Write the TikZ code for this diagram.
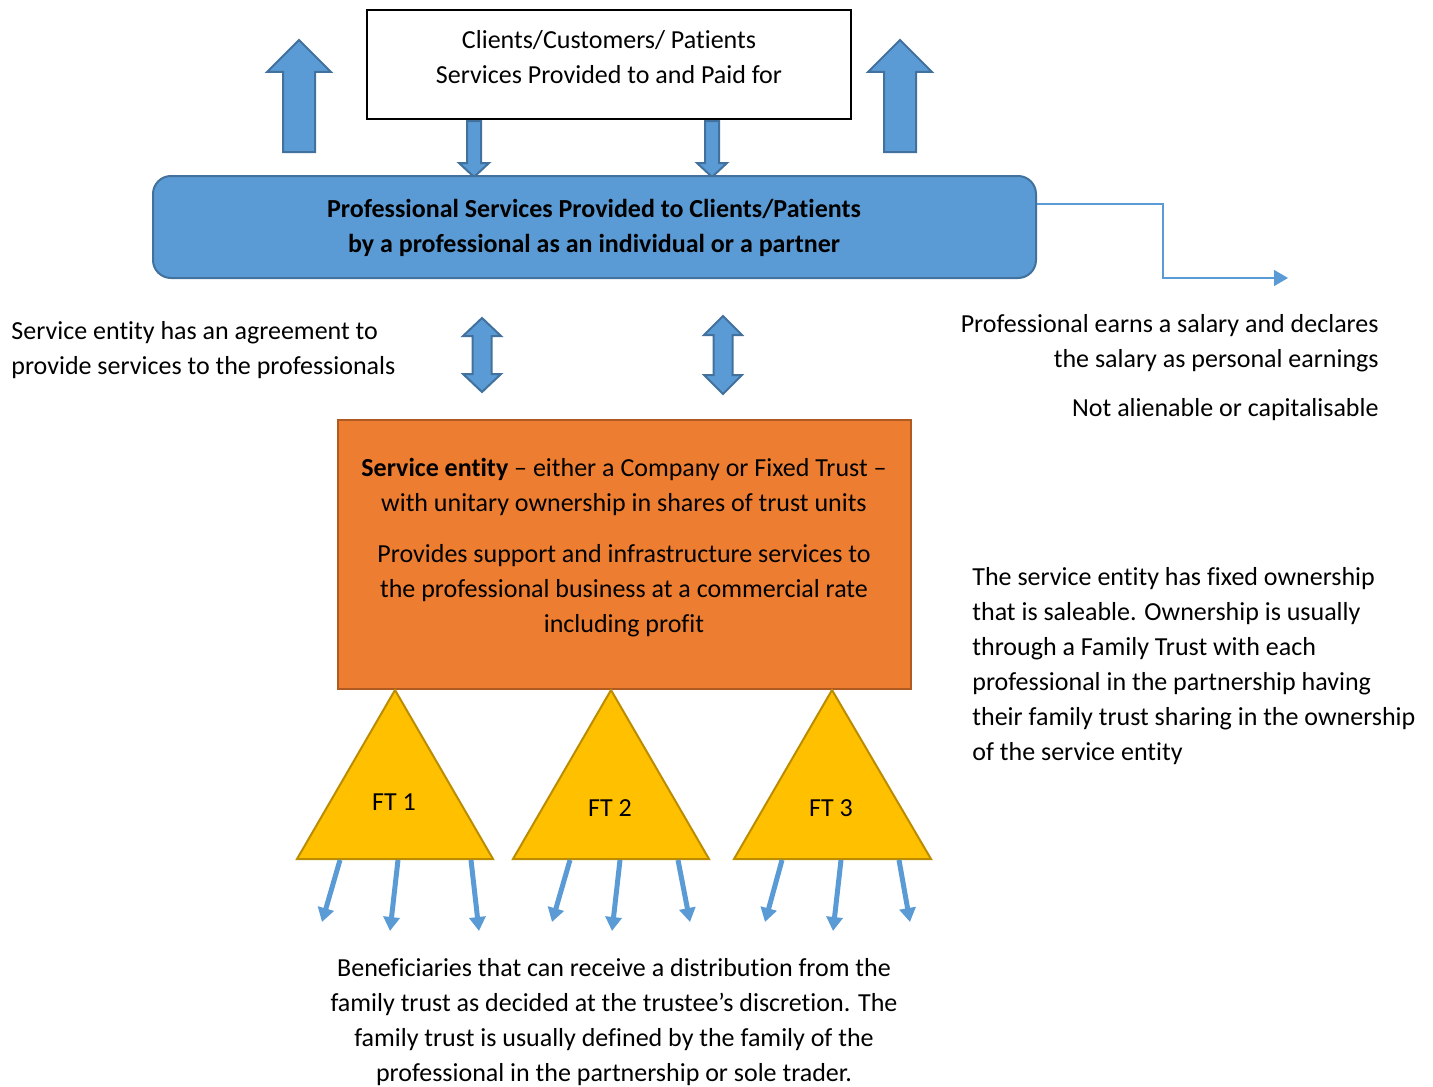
\documentclass[tikz,border=0pt]{standalone}
\usepackage{fontspec}
\setmainfont{Carlito}[Ligatures=NoCommon]
\usetikzlibrary{arrows.meta}
\definecolor{bfill}{HTML}{5B9BD5}
\definecolor{bline}{HTML}{41719C}
\definecolor{ofill}{HTML}{ED7D31}
\definecolor{oline}{HTML}{AE5A21}
\definecolor{tfill}{HTML}{FFC000}
\definecolor{tline}{HTML}{BC8C00}
\tikzset{
  txt/.style={inner sep=0pt, font=\fontsize{13}{17.5}\selectfont},
  blockarrow/.style={fill=bfill, draw=bline, line width=1pt, line join=miter},
  trust/.style={fill=tfill, draw=tline, line width=1pt},
  benarrow/.style={draw=bfill, line width=2.5pt, -{Triangle[length=7pt,width=8pt]}},
  elbow/.style={draw=bfill, line width=0.7pt, -{Triangle[length=7pt,width=8pt]}},
}
\begin{document}
\begin{tikzpicture}[x=0.5pt,y=-0.5pt]
\path[use as bounding box] (0,0) rectangle (1433,1086);
% top box
\node[draw=black, line width=1pt, minimum width=242pt, minimum height=54.5pt, inner sep=0pt] (clients) at (609,64.5) {};
\node[txt, align=center] (clientstxt) at (609,57) {Clients/Customers/ Patients\\Services Provided to and Paid for};
% up block arrows
\draw[blockarrow] (283,152) -- (283,72) -- (267,72) -- (299,40) -- (331,72) -- (315,72) -- (315,152) -- cycle;
\draw[blockarrow] (884,152) -- (884,72) -- (868,72) -- (900,40) -- (932,72) -- (916,72) -- (916,152) -- cycle;
% down block arrows
\draw[blockarrow] (467,121) -- (481,121) -- (481,163) -- (489,163) -- (474,177) -- (459,163) -- (467,163) -- cycle;
\draw[blockarrow] (705,121) -- (719,121) -- (719,163) -- (727,163) -- (712,177) -- (697,163) -- (705,163) -- cycle;
% blue box
\node[fill=bfill, draw=bline, line width=1pt, rounded corners=9pt, minimum width=441.5pt, minimum height=51pt, inner sep=0pt] (prof) at (594.5,227) {};
\node[txt, align=center, font=\fontsize{13}{17.5}\selectfont\bfseries] (proftxt) at (594,228) {Professional Services Provided to Clients/Patients\\by a professional as an individual or a partner};
% elbow connector
\coordinate (elbowend) at (1288,278);
\draw[elbow] (prof.east |- 0,204) -- (1163,204) -- (1163,278) -- (elbowend);
% double arrows
\draw[blockarrow] (482,318) -- (501,336) -- (491.5,336) -- (491.5,374) -- (501,374) -- (482,392) -- (463,374) -- (472.5,374) -- (472.5,336) -- (463,336) -- cycle;
\draw[blockarrow] (723,316) -- (742,335) -- (732.5,335) -- (732.5,375) -- (742,375) -- (723,394) -- (704,375) -- (713.5,375) -- (713.5,335) -- (704,335) -- cycle;
% side texts
\node[txt, align=left, anchor=west] (agree) at (11,350) {Service entity has an agreement to\\provide services to the professionals};
\node[txt, align=right, anchor=east] (salary) at (1379,368) {Professional earns a salary and declares\\the salary as personal earnings\\[7pt]Not alienable or capitalisable};
% orange box
\node[fill=ofill, draw=oline, line width=1pt, minimum width=286.5pt, minimum height=134.5pt, inner sep=0pt] (service) at (624.5,554.5) {};
\node[txt, align=center] (servicetxt) at (624,548) {\textbf{Service entity} -- either a Company or Fixed Trust --\\with unitary ownership in shares of trust units\\[8pt]Provides support and infrastructure services to\\the professional business at a commercial rate\\including profit};
\node[txt, align=left, anchor=west] (saleable) at (972,666.5) {The service entity has fixed ownership\\that is saleable. Ownership is usually\\through a Family Trust with each\\professional in the partnership having\\their family trust sharing in the ownership\\of the service entity};
% trusts
\draw[trust] (395,690) -- (493,859) -- (297,859) -- cycle;
\draw[trust] (611,690) -- (709,859) -- (513,859) -- cycle;
\draw[trust] (832,690) -- (931,859) -- (734,859) -- cycle;
\node[txt] (ft1) at (394,802) {FT 1};
\node[txt] (ft2) at (610,808) {FT 2};
\node[txt] (ft3) at (831,808) {FT 3};
% beneficiary arrows
\coordinate (a1) at (340,860); \coordinate (b1) at (322,922);
\coordinate (a2) at (398,860); \coordinate (b2) at (390,931);
\coordinate (a3) at (471,860); \coordinate (b3) at (479,931);
\coordinate (a4) at (570,860); \coordinate (b4) at (552,922);
\coordinate (a5) at (620,860); \coordinate (b5) at (612,931);
\coordinate (a6) at (678,860); \coordinate (b6) at (690,922);
\coordinate (a7) at (782,860); \coordinate (b7) at (765,922);
\coordinate (a8) at (841,860); \coordinate (b8) at (833,931);
\coordinate (a9) at (899,860); \coordinate (b9) at (910,922);
\foreach \i in {1,...,9} \draw[benarrow] (a\i) -- (b\i);
\node[txt, align=center] (benef) at (614,1022) {Beneficiaries that can receive a distribution from the\\family trust as decided at the trustee’s discretion. The\\family trust is usually defined by the family of the\\professional in the partnership or sole trader.};
\end{tikzpicture}
\end{document}
